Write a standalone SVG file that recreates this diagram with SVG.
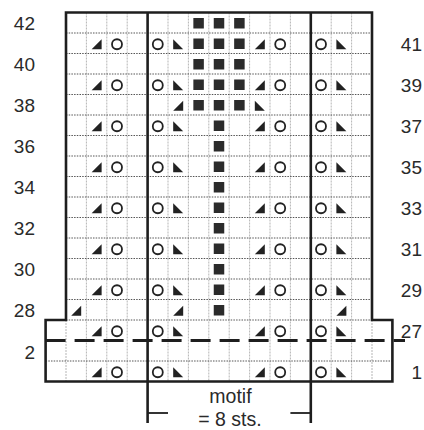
<svg xmlns="http://www.w3.org/2000/svg" xmlns:xlink="http://www.w3.org/1999/xlink" width="424" height="430" viewBox="0 0 424 430">
<style>
.vl{stroke:#b5b5b5;stroke-width:1;stroke-dasharray:2 1}
.hl{stroke:#555;stroke-width:1;stroke-dasharray:1.5 1.2}
.thick{stroke:#1e1e1e;stroke-width:2.6;fill:none}
.lbl{font-family:"Liberation Sans",Arial,sans-serif;font-size:19px;fill:#2a2a2a}
.cap{font-size:19.5px}
.sym{fill:#222}
</style>
<defs>
<circle id="yo" r="5" fill="none" stroke="#222" stroke-width="1.8"/>
<polygon id="tr" class="sym" points="5,-5 5,5 -5,5"/>
<polygon id="tl" class="sym" points="-5,-5 -5,5 5,5"/>
<rect id="sq" x="-5.25" y="-5.25" width="10.5" height="10.5" fill="#2b2b2b"/>
<g id="pat">
<use xlink:href="#tr" x="96.6"/><use xlink:href="#yo" x="117"/>
<use xlink:href="#yo" x="157.8"/><use xlink:href="#tl" x="178.2"/>
<use xlink:href="#tr" x="259.8"/><use xlink:href="#yo" x="280.2"/>
<use xlink:href="#yo" x="321"/><use xlink:href="#tl" x="341.4"/>
</g>
</defs>
<rect width="424" height="430" fill="#fff"/>
<g id="grid">
<g class="vl">
<line x1="86.4" y1="12.5" x2="86.4" y2="381.5"/>
<line x1="106.8" y1="12.5" x2="106.8" y2="381.5"/>
<line x1="127.2" y1="12.5" x2="127.2" y2="381.5"/>
<line x1="168" y1="12.5" x2="168" y2="381.5"/>
<line x1="188.4" y1="12.5" x2="188.4" y2="381.5"/>
<line x1="208.8" y1="12.5" x2="208.8" y2="381.5"/>
<line x1="229.2" y1="12.5" x2="229.2" y2="381.5"/>
<line x1="249.6" y1="12.5" x2="249.6" y2="381.5"/>
<line x1="270" y1="12.5" x2="270" y2="381.5"/>
<line x1="290.4" y1="12.5" x2="290.4" y2="381.5"/>
<line x1="331.2" y1="12.5" x2="331.2" y2="381.5"/>
<line x1="351.6" y1="12.5" x2="351.6" y2="381.5"/>
<line x1="66" y1="320" x2="66" y2="381.5"/>
<line x1="372" y1="320" x2="372" y2="381.5"/>
</g>
<g class="hl">
<line x1="66" y1="33" x2="372" y2="33"/>
<line x1="66" y1="53.5" x2="372" y2="53.5"/>
<line x1="66" y1="74" x2="372" y2="74"/>
<line x1="66" y1="94.5" x2="372" y2="94.5"/>
<line x1="66" y1="115" x2="372" y2="115"/>
<line x1="66" y1="135.5" x2="372" y2="135.5"/>
<line x1="66" y1="156" x2="372" y2="156"/>
<line x1="66" y1="176.5" x2="372" y2="176.5"/>
<line x1="66" y1="197" x2="372" y2="197"/>
<line x1="66" y1="217.5" x2="372" y2="217.5"/>
<line x1="66" y1="238" x2="372" y2="238"/>
<line x1="66" y1="258.5" x2="372" y2="258.5"/>
<line x1="66" y1="279" x2="372" y2="279"/>
<line x1="66" y1="299.5" x2="372" y2="299.5"/>
<line x1="66" y1="320" x2="372" y2="320"/>
<line x1="45.6" y1="361" x2="392.4" y2="361"/>
</g>
</g>
<g id="symbols">
<use xlink:href="#pat" y="44.25"/>
<use xlink:href="#pat" y="85.25"/>
<use xlink:href="#pat" y="126.25"/>
<use xlink:href="#pat" y="167.25"/>
<use xlink:href="#pat" y="208.25"/>
<use xlink:href="#pat" y="249.25"/>
<use xlink:href="#pat" y="290.25"/>
<use xlink:href="#pat" y="331.25"/>
<use xlink:href="#pat" y="372.25"/>
<use xlink:href="#sq" x="198.6" y="23.25"/><use xlink:href="#sq" x="219" y="23.25"/><use xlink:href="#sq" x="239.4" y="23.25"/>
<use xlink:href="#sq" x="198.6" y="43.75"/><use xlink:href="#sq" x="219" y="43.75"/><use xlink:href="#sq" x="239.4" y="43.75"/>
<use xlink:href="#sq" x="198.6" y="64.25"/><use xlink:href="#sq" x="219" y="64.25"/><use xlink:href="#sq" x="239.4" y="64.25"/>
<use xlink:href="#sq" x="198.6" y="84.75"/><use xlink:href="#sq" x="219" y="84.75"/><use xlink:href="#sq" x="239.4" y="84.75"/>
<use xlink:href="#tr" x="178.2" y="105.75"/>
<use xlink:href="#sq" x="198.6" y="105.25"/><use xlink:href="#sq" x="219" y="105.25"/><use xlink:href="#sq" x="239.4" y="105.25"/>
<use xlink:href="#tl" x="259.8" y="105.75"/>
<use xlink:href="#sq" x="219" y="125.75"/>
<use xlink:href="#sq" x="219" y="146.25"/>
<use xlink:href="#sq" x="219" y="166.75"/>
<use xlink:href="#sq" x="219" y="187.25"/>
<use xlink:href="#sq" x="219" y="207.75"/>
<use xlink:href="#sq" x="219" y="228.25"/>
<use xlink:href="#sq" x="219" y="248.75"/>
<use xlink:href="#sq" x="219" y="269.25"/>
<use xlink:href="#sq" x="219" y="289.75"/>
<use xlink:href="#sq" x="219" y="310.25"/>
<use xlink:href="#tr" x="76.2" y="310.75"/>
<use xlink:href="#tr" x="178.2" y="310.75"/>
<use xlink:href="#tr" x="341.4" y="310.75"/>
</g>
<g id="frame">
<polygon class="thick" stroke-width="3.2" points="66,12.5 372,12.5 372,320 392.4,320 392.4,381.5 45.6,381.5 45.6,320 66,320"/>
<line class="thick" x1="147.6" y1="12.5" x2="147.6" y2="423"/>
<line class="thick" x1="310.8" y1="12.5" x2="310.8" y2="423"/>
<line x1="45.6" y1="340.5" x2="405" y2="340.5" stroke="#1e1e1e" stroke-width="3" stroke-dasharray="20 9"/>
<line x1="147.6" y1="413" x2="168" y2="413" stroke="#1e1e1e" stroke-width="1.8"/>
<line x1="290.4" y1="413" x2="310.8" y2="413" stroke="#1e1e1e" stroke-width="1.8"/>
</g>
<g id="labels" class="lbl">
<g text-anchor="end">
<text x="35" y="30">42</text>
<text x="35" y="71">40</text>
<text x="35" y="112">38</text>
<text x="35" y="153">36</text>
<text x="35" y="194">34</text>
<text x="35" y="235">32</text>
<text x="35" y="276">30</text>
<text x="35" y="317">28</text>
<text x="35" y="358.5">2</text>
<text x="422" y="50.5">41</text>
<text x="422" y="91.5">39</text>
<text x="422" y="132.5">37</text>
<text x="422" y="173.5">35</text>
<text x="422" y="214.5">33</text>
<text x="422" y="255.5">31</text>
<text x="422" y="296.5">29</text>
<text x="422" y="338">27</text>
<text x="422" y="378.5">1</text>
</g>
<g text-anchor="middle" class="cap">
<text x="230.5" y="402.5">motif</text>
<text x="230" y="425.5">= 8 sts.</text>
</g>
</g>
</svg>
